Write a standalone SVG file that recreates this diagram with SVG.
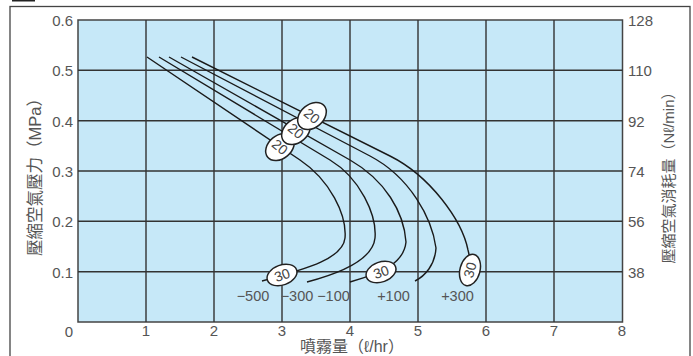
<svg xmlns="http://www.w3.org/2000/svg" width="693" height="356" viewBox="0 0 693 356">
<style>
.num{font-family:"Liberation Sans",Arial,sans-serif;font-size:15px;fill:#555}
.lab{font-size:14.5px}
.c{text-anchor:middle}
.e{text-anchor:end}
.cjk{font-family:"Liberation Sans","Noto Sans CJK TC",sans-serif;fill:#555;text-anchor:middle}
.grid{stroke:#333;stroke-width:1.4;fill:none}
.curve{stroke:#1a1a1a;stroke-width:1.4;fill:none}
.tag{fill:#fff;stroke:#222;stroke-width:1.5}
.tagt{font-family:"Liberation Sans",Arial,sans-serif;font-size:14px;fill:#444;text-anchor:middle}
</style>
<rect x="12" y="0" width="23" height="1.5" fill="#222"/>
<rect x="10" y="6.5" width="680" height="360" fill="none" stroke="#444" stroke-width="1.3"/>
<g id="plot">
<rect x="78" y="20" width="544.5" height="302" fill="#c6e8f8" stroke="#444" stroke-width="1.5"/>
<path class="grid" d="M146,20V322M214,20V322M282,20V322M350,20V322M418,20V322M486,20V322M554,20V322M78,70.3H622.5M78,120.7H622.5M78,171H622.5M78,221.3H622.5M78,271.7H622.5"/>
</g>
<g id="axis-left">
<text class="num e" x="73" y="26">0.6</text>
<text class="num e" x="73" y="76.3">0.5</text>
<text class="num e" x="73" y="126.7">0.4</text>
<text class="num e" x="73" y="177">0.3</text>
<text class="num e" x="73" y="227.3">0.2</text>
<text class="num e" x="73" y="277.7">0.1</text>
<text class="cjk" font-size="16.5" transform="translate(41,173) rotate(-90)">壓縮空氣壓力（MPa）</text>
</g>
<g id="axis-bottom">
<text class="num c" x="69" y="337">0</text>
<text class="num c" x="146" y="336">1</text>
<text class="num c" x="214" y="336">2</text>
<text class="num c" x="282" y="336">3</text>
<text class="num c" x="350" y="336">4</text>
<text class="num c" x="418" y="336">5</text>
<text class="num c" x="486" y="336">6</text>
<text class="num c" x="554" y="336">7</text>
<text class="num c" x="622" y="336">8</text>
<text class="cjk" font-size="16" x="352" y="352">噴霧量（ℓ/hr）</text>
</g>
<g id="axis-right">
<text class="num" x="628" y="26">128</text>
<text class="num" x="628" y="76.3">110</text>
<text class="num" x="628" y="126.7">92</text>
<text class="num" x="628" y="177">74</text>
<text class="num" x="628" y="227.3">56</text>
<text class="num" x="628" y="277.7">38</text>
<text class="cjk" font-size="15" transform="translate(674,174) rotate(-90)">壓縮空氣消耗量（Nℓ/min）</text>
</g>
<g id="connectors">
<path class="curve" d="M147,57 L300,160 C330,180 347,215 345,238 C343,258 310,268 262,281"/>
<path class="curve" d="M159,57 L330,160 C360,178 377,215 375,238 C373,258 345,272 307,282"/>
<path class="curve" d="M169,57 L350,160 C385,180 404,212 406,242 C404,262 385,272 350,282"/>
<path class="curve" d="M181,57 L370,156 C410,177 432,218 436,248 C435,265 425,276 415,281"/>
<path class="curve" d="M192,57 L390,156 C430,176 462,220 468,250 C471,262 471,268 470,272"/>
</g>
<g id="tag-20-a"><ellipse class="tag" cx="280" cy="147" rx="16" ry="11.5" transform="rotate(-40 280 147)"/><text class="tagt" transform="translate(280,147) rotate(40)" y="5">20</text></g>
<g id="tag-20-b"><ellipse class="tag" cx="296" cy="131" rx="16" ry="11.5" transform="rotate(-40 296 131)"/><text class="tagt" transform="translate(296,131) rotate(40)" y="5">20</text></g>
<g id="tag-20-c"><ellipse class="tag" cx="312" cy="116" rx="16" ry="11.5" transform="rotate(-40 312 116)"/><text class="tagt" transform="translate(312,116) rotate(40)" y="5">20</text></g>
<g id="tag-30-a"><ellipse class="tag" cx="282" cy="275" rx="15.5" ry="10" transform="rotate(-20 282 275)"/><text class="tagt" transform="translate(282,275) rotate(-20)" y="5">30</text></g>
<g id="tag-30-b"><ellipse class="tag" cx="381" cy="272" rx="15.5" ry="10" transform="rotate(-20 381 272)"/><text class="tagt" transform="translate(381,272) rotate(-20)" y="5">30</text></g>
<g id="tag-30-c"><ellipse class="tag" cx="470" cy="270" rx="16" ry="10" transform="rotate(-75 470 270)"/><text class="tagt" transform="translate(470,270) rotate(-75)" y="5">30</text></g>
<g id="curve-labels">
<text class="num lab c" x="253" y="301">−500</text>
<text class="num lab c" x="297" y="301">−300</text>
<text class="num lab c" x="333.5" y="301">−100</text>
<text class="num lab c" x="393.5" y="301">+100</text>
<text class="num lab c" x="457.5" y="301">+300</text>
</g>
</svg>
